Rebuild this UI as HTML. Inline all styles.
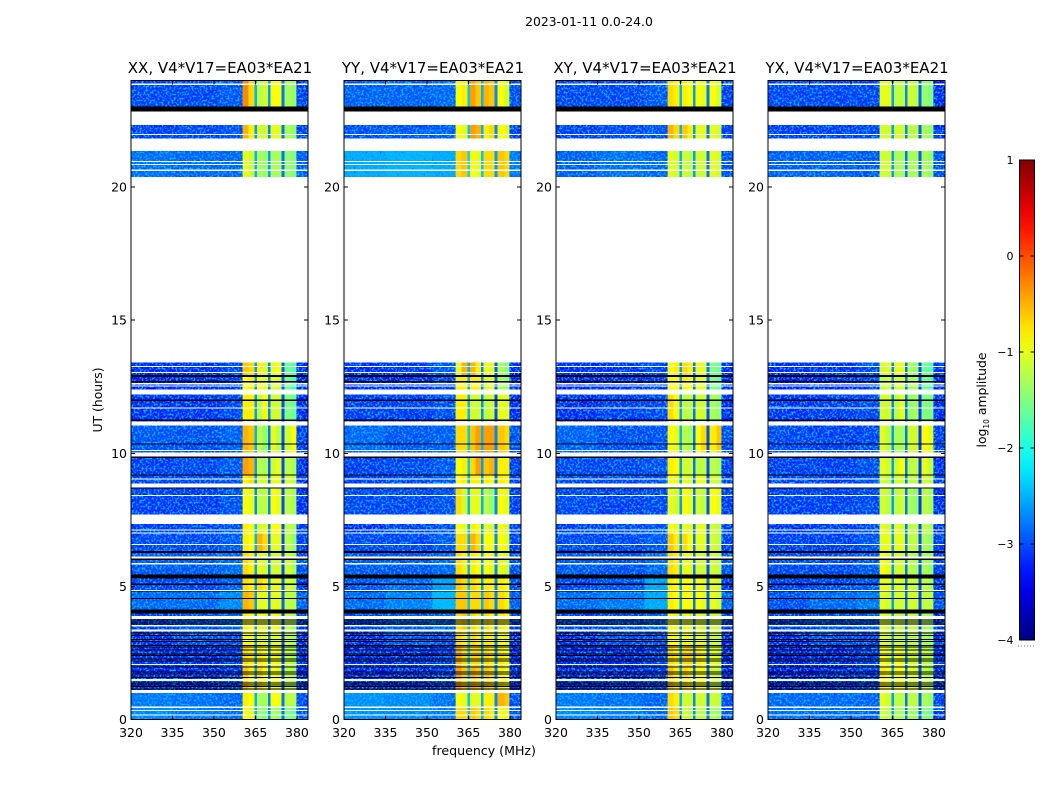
<!DOCTYPE html>
<html><head><meta charset="utf-8"><title>2023-01-11 0.0-24.0</title>
<style>html,body{margin:0;padding:0;background:#fff;width:1050px;height:800px;overflow:hidden}
svg{display:block}text{font-family:"DejaVu Sans","Liberation Sans",sans-serif;fill:#000}</style></head>
<body>
<svg id="figure" xmlns="http://www.w3.org/2000/svg" width="1050" height="800" viewBox="0 0 1050 800">
<defs>
<filter id="speckle" x="0" y="0" width="100%" height="100%" color-interpolation-filters="sRGB">
<feTurbulence type="fractalNoise" baseFrequency="0.5" numOctaves="2" seed="7" result="n"/>
<feColorMatrix in="n" result="lite" type="matrix" values="0 0 0 0 0  0 0 0 0 0.74  0 0 0 0 1  5 0 0 0 -2.35"/>
<feColorMatrix in="n" result="dark" type="matrix" values="0 0 0 0 0  0 0 0 0 0.1  0 0 0 0 0.9  0 -3 0 0 1.1"/>
<feMerge><feMergeNode in="dark"/><feMergeNode in="lite"/></feMerge>
</filter>
<linearGradient id="jet-gradient" x1="0" y1="1" x2="0" y2="0"></linearGradient>
</defs>
<text x="589" y="26" text-anchor="middle" font-size="12.4">2023-01-11 0.0-24.0</text>
<text x="484" y="755" text-anchor="middle" font-size="12.6">frequency (MHz)</text>
<text transform="translate(102,400) rotate(-90)" text-anchor="middle" font-size="12.4">UT (hours)</text>
<text transform="translate(986,400) rotate(-90)" text-anchor="middle" font-size="12.4">log<tspan font-size="7.5" dy="3">10</tspan><tspan dy="-3"> amplitude</tspan></text>
<g id="panels"></g>
<g id="colorbar"></g>
</svg>
<script>
// Frequency columns of the heatmap (MHz edges)
const freqEdges = [320,335,352,360.4,362.5,364.6,365.5,367.5,369.5,370.5,372.5,374.5,375.5,378,379.8,384];
// Time bands (UT hours): top and bottom of each heatmap row
const bandTop =    [24,   22.9, 21.6, 13.4, 12.9, 12.3, 11.1, 10.0, 9.2, 8.8, 7.5, 7.0, 6.3, 5.35, 4.87, 4.05, 3.35, 2.8, 2.0, 1.05, 0.5];
const bandBottom = [22.9, 21.6, 20.38,12.9, 12.3, 11.1, 10.0, 9.2, 8.8, 7.5, 7.0, 6.3, 5.35,4.87, 4.05, 3.35, 2.8, 2.0, 1.05,0.5,  0];
// log10 amplitude, one row per time band, one value per frequency column
const valuesXX = [
[-3.15,-3.15,-3.05,-0.3,-0.7,-2.5,-1.2,-1.1,-2.6,-0.9,-0.9,-2.8,-1.3,-1.4,-3.2],
[-3.2,-3.15,-3.1,-0.5,-0.8,-2.6,-1.1,-1.1,-2.7,-1.0,-1.0,-2.8,-1.3,-1.4,-3.2],
[-2.9,-2.95,-2.95,-1.0,-1.1,-2.5,-1.3,-1.4,-2.6,-1.3,-1.3,-2.8,-1.4,-1.5,-3.0],
[-3.3,-3.3,-3.15,-0.6,-0.7,-2.6,-0.8,-1.1,-2.7,-1.0,-0.9,-2.9,-1.6,-1.7,-3.3],
[-3.35,-3.3,-3.2,-0.9,-0.8,-2.6,-0.9,-1.0,-2.7,-1.0,-1.1,-2.9,-1.6,-1.8,-3.3],
[-3.25,-3.25,-3.15,-0.8,-0.8,-2.6,-1.2,-0.9,-2.7,-1.1,-1.1,-3.0,-1.5,-1.6,-3.3],
[-3.05,-3.1,-3.0,-0.5,-0.6,-2.5,-1.2,-1.4,-2.8,-1.0,-1.2,-3.0,-1.1,-0.9,-3.2],
[-3.2,-3.15,-3.05,-0.4,-0.5,-2.6,-1.2,-1.3,-2.9,-1.1,-1.0,-3.0,-1.2,-1.3,-3.3],
[-3.15,-3.15,-3.1,-0.8,-0.7,-2.6,-1.1,-1.1,-2.9,-1.0,-1.0,-3.0,-1.1,-1.2,-3.3],
[-3.2,-3.2,-3.1,-0.9,-1.0,-2.7,-1.2,-1.2,-2.7,-0.9,-1.0,-3.0,-1.2,-1.3,-3.3],
[-3.2,-3.15,-3.1,-0.8,-0.9,-2.4,-1.1,-1.0,-2.7,-0.9,-0.9,-3.0,-1.2,-1.3,-3.2],
[-3.15,-3.15,-3.05,-0.8,-0.9,-2.5,-0.5,-0.7,-2.8,-1.0,-1.0,-3.0,-1.2,-1.4,-3.2],
[-3.05,-3.05,-2.95,-0.7,-0.8,-2.6,-1.0,-1.1,-2.8,-1.1,-1.1,-3.0,-1.1,-1.3,-3.1],
[-3.15,-3.15,-3.0,-0.7,-0.8,-2.6,-0.7,-0.8,-2.7,-1.0,-1.0,-2.9,-1.1,-1.2,-3.2],
[-2.95,-2.95,-2.75,-0.5,-0.6,-2.6,-1.0,-1.0,-2.8,-1.0,-1.0,-2.9,-1.2,-1.2,-3.0],
[-3.2,-3.1,-3.0,-0.8,-0.9,-2.6,-0.9,-1.0,-2.8,-0.9,-1.0,-3.0,-1.2,-1.3,-3.2],
[-3.3,-3.1,-3.1,-0.9,-0.9,-2.6,-1.0,-1.0,-2.8,-1.0,-1.0,-3.0,-1.2,-1.3,-3.3],
[-3.3,-3.3,-3.2,-0.7,-0.8,-2.6,-0.8,-0.9,-2.8,-0.9,-1.0,-3.0,-1.2,-1.3,-3.3],
[-3.3,-3.3,-3.2,-0.6,-0.8,-2.6,-0.7,-0.9,-2.8,-0.9,-1.0,-3.0,-1.2,-1.3,-3.3],
[-2.85,-2.9,-2.95,-0.8,-0.9,-2.5,-1.3,-1.3,-2.7,-0.9,-0.9,-2.8,-1.2,-1.2,-3.1],
[-2.75,-2.85,-2.95,-0.9,-1.0,-2.5,-1.4,-1.5,-2.7,-1.3,-1.4,-2.8,-1.5,-1.6,-3.1]
];
const valuesYY = [
[-3.0,-3.0,-2.95,-0.9,-0.8,-2.4,-0.4,-0.6,-2.5,-0.5,-0.6,-2.7,-0.9,-1.1,-3.1],
[-3.1,-3.05,-3.0,-0.9,-1.0,-2.4,-0.4,-0.5,-2.5,-0.8,-0.7,-2.7,-0.9,-1.0,-3.2],
[-2.55,-2.5,-2.55,-0.7,-0.6,-2.3,-0.9,-1.0,-2.4,-0.7,-0.7,-2.6,-0.6,-0.7,-2.85],
[-3.3,-3.25,-3.05,-1.0,-0.5,-2.5,-0.5,-0.8,-2.7,-1.0,-1.0,-2.9,-1.3,-1.5,-3.3],
[-3.3,-3.3,-3.15,-0.8,-0.8,-2.5,-0.8,-0.8,-2.7,-1.1,-1.0,-2.9,-1.3,-1.4,-3.3],
[-3.2,-3.2,-3.1,-0.8,-0.8,-2.5,-1.1,-1.1,-2.7,-1.2,-1.1,-3.0,-1.0,-1.0,-3.3],
[-2.95,-3.05,-3.0,-0.7,-0.7,-2.4,-0.6,-0.4,-2.5,-0.4,-0.4,-2.7,-0.6,-0.7,-3.1],
[-3.2,-3.15,-3.05,-0.9,-0.8,-2.4,-0.7,-0.4,-2.6,-0.6,-0.5,-2.8,-0.8,-0.8,-3.2],
[-3.2,-3.15,-3.05,-0.9,-0.8,-2.5,-0.8,-0.8,-2.6,-0.8,-0.9,-2.8,-0.8,-0.9,-3.2],
[-3.15,-3.15,-3.1,-0.7,-1.1,-2.5,-1.0,-1.0,-2.5,-1.2,-1.4,-2.7,-0.9,-1.0,-3.2],
[-3.3,-3.15,-3.1,-0.9,-1.0,-2.5,-0.8,-0.9,-2.6,-1.0,-1.1,-2.8,-0.9,-1.1,-3.2],
[-3.15,-3.15,-3.05,-0.7,-0.7,-2.5,-0.5,-0.7,-2.6,-0.9,-0.9,-2.7,-0.9,-1.0,-3.2],
[-3.05,-3.05,-2.95,-0.7,-0.8,-2.5,-0.8,-0.9,-2.6,-0.9,-1.0,-2.7,-1.0,-1.1,-3.1],
[-3.05,-2.95,-2.6,-0.6,-0.7,-2.4,-0.7,-0.8,-2.6,-0.8,-0.8,-2.7,-0.8,-0.9,-3.1],
[-2.95,-2.8,-2.45,-0.6,-0.6,-2.4,-0.7,-0.7,-2.5,-0.6,-0.7,-2.7,-0.7,-0.8,-3.0],
[-3.2,-3.05,-3.0,-0.7,-0.6,-2.4,-0.7,-0.8,-2.6,-0.7,-0.8,-2.7,-0.8,-0.9,-3.2],
[-3.3,-3.05,-3.1,-0.7,-0.8,-2.4,-0.7,-0.8,-2.6,-0.8,-0.8,-2.7,-0.9,-1.0,-3.3],
[-3.3,-3.3,-3.2,-0.5,-0.7,-2.4,-0.7,-0.7,-2.6,-0.7,-0.8,-2.7,-0.8,-0.9,-3.3],
[-3.3,-3.3,-3.2,-0.4,-0.6,-2.4,-0.5,-0.6,-2.6,-0.6,-0.7,-2.7,-0.8,-0.9,-3.3],
[-2.7,-2.75,-2.9,-0.9,-1.0,-2.4,-1.0,-1.0,-2.5,-0.8,-0.8,-2.7,-0.5,-0.6,-3.1],
[-2.7,-2.75,-2.85,-0.7,-0.7,-2.4,-0.6,-0.7,-2.5,-0.7,-0.8,-2.7,-0.9,-1.0,-3.1]
];
const valuesXY = [
[-3.15,-3.15,-3.05,-0.7,-0.8,-2.5,-0.8,-0.9,-2.6,-0.9,-1.0,-2.8,-0.9,-1.1,-3.2],
[-3.2,-3.15,-3.1,-0.5,-0.7,-2.5,-0.6,-0.8,-2.6,-1.0,-1.0,-2.8,-1.0,-1.1,-3.2],
[-3.0,-2.9,-2.95,-1.0,-1.1,-2.5,-1.1,-1.2,-2.6,-1.1,-1.1,-2.8,-1.0,-1.1,-3.1],
[-3.3,-3.25,-3.15,-0.9,-0.8,-2.6,-0.7,-0.8,-2.8,-1.0,-1.0,-2.8,-1.5,-1.6,-3.3],
[-3.35,-3.3,-3.2,-0.9,-0.9,-2.6,-0.8,-0.9,-2.8,-1.0,-1.0,-2.8,-1.5,-1.6,-3.3],
[-3.3,-3.2,-3.15,-0.7,-0.9,-2.6,-1.2,-1.2,-2.8,-1.1,-1.1,-3.0,-1.3,-1.4,-3.3],
[-3.0,-3.1,-3.1,-0.9,-1.0,-2.5,-1.2,-1.3,-2.8,-0.9,-0.7,-3.0,-0.8,-0.6,-3.1],
[-3.15,-3.15,-3.1,-0.8,-0.9,-2.6,-1.1,-1.1,-2.8,-1.2,-1.2,-3.0,-1.2,-1.3,-3.2],
[-3.15,-3.15,-3.1,-0.9,-1.0,-2.6,-1.0,-1.1,-2.8,-1.0,-1.0,-3.0,-1.1,-1.2,-3.2],
[-3.15,-3.2,-3.15,-1.0,-1.1,-2.6,-0.9,-1.0,-2.8,-1.1,-1.2,-3.0,-0.9,-1.0,-3.2],
[-3.2,-3.15,-3.1,-0.9,-1.0,-2.6,-1.0,-1.0,-2.8,-1.0,-1.0,-3.0,-1.1,-1.2,-3.2],
[-3.15,-3.15,-3.05,-0.6,-0.8,-2.6,-0.7,-0.9,-2.8,-1.0,-1.0,-3.0,-1.1,-1.2,-3.2],
[-3.05,-3.1,-2.95,-0.7,-0.8,-2.6,-1.0,-1.0,-2.8,-1.1,-1.1,-3.0,-1.1,-1.2,-3.1],
[-3.15,-3.05,-2.55,-0.8,-0.9,-2.6,-0.9,-0.9,-2.8,-0.9,-1.0,-2.9,-1.0,-1.1,-3.2],
[-2.95,-2.85,-2.55,-0.8,-0.9,-2.6,-0.9,-0.9,-2.8,-0.9,-1.0,-2.9,-1.0,-1.1,-3.0],
[-3.2,-3.1,-3.0,-0.9,-1.0,-2.6,-1.0,-1.0,-2.8,-1.0,-1.1,-2.9,-1.1,-1.2,-3.2],
[-3.3,-3.1,-3.1,-0.9,-0.9,-2.6,-0.9,-1.0,-2.8,-1.0,-1.0,-2.9,-1.1,-1.2,-3.3],
[-3.3,-3.3,-3.2,-0.7,-0.8,-2.6,-0.7,-0.7,-2.8,-0.8,-0.9,-2.9,-1.0,-1.1,-3.3],
[-3.3,-3.3,-3.2,-0.6,-0.8,-2.6,-0.7,-0.8,-2.8,-0.9,-0.9,-2.9,-1.1,-1.2,-3.3],
[-2.85,-2.9,-3.0,-0.7,-0.8,-2.5,-1.1,-1.1,-2.7,-1.1,-1.1,-2.8,-1.1,-1.2,-3.1],
[-2.75,-2.8,-2.95,-0.6,-0.7,-2.5,-1.1,-1.2,-2.7,-1.2,-1.2,-2.8,-1.3,-1.4,-3.1]
];
const valuesYX = [
[-3.15,-3.15,-3.15,-1.0,-1.0,-2.6,-1.2,-1.2,-2.7,-1.1,-1.2,-2.9,-1.4,-1.5,-3.3],
[-3.2,-3.2,-3.15,-1.1,-1.1,-2.6,-1.1,-1.1,-2.7,-1.2,-1.2,-2.9,-1.3,-1.4,-3.3],
[-3.0,-3.0,-3.05,-1.1,-1.1,-2.6,-1.3,-1.3,-2.8,-1.3,-1.3,-2.9,-1.3,-1.4,-3.1],
[-3.3,-3.25,-3.15,-1.1,-1.0,-2.7,-1.0,-1.0,-2.8,-1.3,-1.4,-3.0,-1.6,-1.7,-3.3],
[-3.35,-3.3,-3.2,-1.2,-1.1,-2.7,-1.1,-1.1,-2.8,-1.3,-1.3,-3.0,-1.6,-1.7,-3.3],
[-3.25,-3.2,-3.15,-1.1,-1.1,-2.7,-1.2,-1.0,-2.8,-1.4,-1.3,-3.1,-1.5,-1.5,-3.3],
[-3.15,-3.2,-3.15,-1.0,-1.2,-2.6,-1.3,-1.3,-2.8,-1.1,-1.1,-3.1,-0.9,-1.0,-3.2],
[-3.2,-3.2,-3.1,-1.0,-1.1,-2.6,-1.1,-0.9,-2.8,-1.2,-1.2,-3.1,-1.0,-1.2,-3.3],
[-3.2,-3.2,-3.1,-1.1,-1.2,-2.6,-1.1,-1.1,-2.8,-1.2,-1.2,-3.1,-1.1,-1.2,-3.2],
[-3.2,-3.2,-3.15,-1.1,-1.2,-2.6,-1.2,-1.1,-2.8,-1.3,-1.4,-3.1,-1.2,-1.3,-3.3],
[-3.25,-3.2,-3.15,-1.0,-1.1,-2.6,-1.0,-1.1,-2.8,-1.2,-1.2,-3.0,-1.2,-1.3,-3.3],
[-3.2,-3.2,-3.1,-1.0,-1.0,-2.6,-1.0,-1.0,-2.8,-1.2,-1.2,-3.0,-1.3,-1.4,-3.2],
[-3.15,-3.15,-3.05,-0.9,-1.0,-2.6,-1.1,-1.1,-2.8,-1.2,-1.3,-3.0,-1.3,-1.4,-3.2],
[-3.2,-3.15,-3.05,-1.0,-1.0,-2.6,-1.0,-1.1,-2.8,-1.1,-1.2,-3.0,-1.2,-1.3,-3.2],
[-3.1,-2.95,-2.85,-1.0,-1.1,-2.6,-1.1,-1.1,-2.8,-1.1,-1.1,-3.0,-1.2,-1.2,-3.1],
[-3.2,-3.1,-3.05,-1.0,-1.1,-2.6,-1.1,-1.2,-2.8,-1.1,-1.2,-3.0,-1.3,-1.4,-3.3],
[-3.3,-3.1,-3.15,-1.0,-1.1,-2.6,-1.1,-1.2,-2.8,-1.2,-1.2,-3.0,-1.3,-1.4,-3.3],
[-3.35,-3.3,-3.2,-0.9,-1.0,-2.6,-0.9,-1.0,-2.8,-1.1,-1.1,-3.0,-1.2,-1.3,-3.3],
[-3.35,-3.3,-3.2,-0.8,-0.9,-2.6,-0.9,-0.9,-2.8,-1.0,-1.1,-3.0,-1.2,-1.3,-3.3],
[-2.95,-2.95,-3.0,-1.0,-1.1,-2.6,-1.2,-1.2,-2.8,-1.2,-1.2,-2.9,-1.3,-1.4,-3.2],
[-2.9,-2.95,-3.0,-1.1,-1.2,-2.6,-1.3,-1.3,-2.8,-1.3,-1.4,-2.9,-1.5,-1.6,-3.2]
];
// UT ranges with no data (drawn white)
const maskedStart = [23.84,22.32,21.95,21.35,20.93,20.82,20.6,13.4,13.24,13.02,12.59,12.5,12.21,11.68,11.05,10.08,9.88,9.02,8.71,8.4,7.34,7.09,6.98,6.55,6.05,5.83,4.84,3.78,3.5,3.31,2.05,1.45,1.0,0.44,0.31,0.15];
const maskedEnd   = [23.88,22.84,22.0,21.82,20.97,20.86,20.65,20.38,13.28,13.06,12.63,12.54,12.39,11.72,11.19,10.12,10.03,9.06,8.86,8.44,7.7,7.13,7.02,6.59,6.12,5.87,4.87,3.88,3.54,3.38,2.09,1.52,1.11,0.48,0.35,0.19];
// UT ranges flagged as bad (drawn black)
const flaggedStart = [22.84,12.87,12.66,11.97,11.22,10.32,9.83,9.17,8.67,6.25,6.0,5.29,5.05,4.81,4.53,3.99,3.73,3.65,3.58,3.24,3.15,2.99,2.91,2.77,2.71,2.59,2.44,2.38,2.26,2.18,1.96,1.78,1.69,1.57,1.36,1.28,1.22,1.14];
const flaggedEnd   = [23.03,12.93,12.72,12.02,11.26,10.37,9.87,9.21,8.71,6.32,6.05,5.44,5.1,4.84,4.57,4.13,3.76,3.68,3.61,3.27,3.18,3.02,2.95,2.8,2.75,2.62,2.47,2.42,2.3,2.21,2.0,1.81,1.72,1.6,1.39,1.31,1.25,1.17];
// Axis ticks and labels
const panelTitles = ["XX, V4*V17=EA03*EA21","YY, V4*V17=EA03*EA21","XY, V4*V17=EA03*EA21","YX, V4*V17=EA03*EA21"];
const freqTicks = [320,335,350,365,380];
const utTicks = [0,5,10,15,20];
const colorTicks = [1,0,-1,-2,-3,-4];

const panelValues = [valuesXX,valuesYY,valuesXY,valuesYX];
const panelLeft = [131,344,556,768];
const panelWidth = 177;
const plotTop = 80.5, plotBottom = 719.5;
const NS = "http://www.w3.org/2000/svg";

function mk(tag, attrs, parent){
  const el = document.createElementNS(NS, tag);
  for (const k in attrs) el.setAttribute(k, attrs[k]);
  parent.appendChild(el);
  return el;
}
function xScale(left, mhz){ return left + (mhz - 320) * panelWidth / 64; }
function yScale(ut){ return plotBottom - ut * (plotBottom - plotTop) / 24; }
function jet(v){
  const t = Math.max(0, Math.min(1, (v + 4) / 5));
  const c = x => Math.round(255 * Math.max(0, Math.min(1, x)));
  return "rgb(" + c(Math.min(4*t-1.5, -4*t+4.5)) + "," + c(Math.min(4*t-0.5, -4*t+3.5)) + "," + c(Math.min(4*t+0.5, -4*t+2.5)) + ")";
}

const panelsRoot = document.getElementById("panels");
panelTitles.forEach(function(title, p){
  const left = panelLeft[p];
  const g = mk("g", {}, panelsRoot);
  
  

  const rows = panelValues[p];
  rows.forEach(function(row, r){
    row.forEach(function(v, c){
      const x0 = xScale(left, freqEdges[c]), x1 = xScale(left, freqEdges[c+1]);
      const y0 = yScale(bandTop[r]), y1 = yScale(bandBottom[r]);
      const cell = mk("rect", {x:x0, y:y0, width:x1-x0, height:y1-y0, fill:jet(v), "shape-rendering":"crispEdges"}, g);
      
      
    });
  });

  const spA = mk("rect", {x:left, y:plotTop, width:xScale(0,360.4), height:plotBottom-plotTop, filter:"url(#speckle)"}, g);
  
  
  const spB = mk("rect", {x:xScale(left,379.8), y:plotTop, width:left+panelWidth-xScale(left,379.8), height:plotBottom-plotTop, filter:"url(#speckle)"}, g);
  
  

  flaggedStart.forEach(function(s, i){
    const y0 = yScale(flaggedEnd[i]), y1 = yScale(s);
    const f = mk("rect", {x:left, y:y0, width:panelWidth, height:Math.max(1,y1-y0), fill:"#000", "shape-rendering":"crispEdges"}, g);
    
    
  });
  maskedStart.forEach(function(s, i){
    const y0 = yScale(maskedEnd[i]), y1 = yScale(s);
    const m = mk("rect", {x:left, y:y0, width:panelWidth, height:Math.max(1,y1-y0), fill:"#fff", "shape-rendering":"crispEdges"}, g);
    
    
  });

  const frame = mk("rect", {x:left, y:plotTop, width:panelWidth, height:plotBottom-plotTop, fill:"none", stroke:"#000", "stroke-width":1, "shape-rendering":"crispEdges"}, g);
  
  

  const t = mk("text", {x:left+panelWidth/2+0.5, y:73, "text-anchor":"middle", "font-size":"15"}, g);
  t.textContent = title;
  
  

  freqTicks.forEach(function(f){
    const x = xScale(left, f);
    const a = mk("line", {x1:x, x2:x, y1:plotBottom, y2:plotBottom-4, stroke:"#000", "shape-rendering":"crispEdges"}, g);
    
    
    const b = mk("line", {x1:x, x2:x, y1:plotTop, y2:plotTop+4, stroke:"#000", "shape-rendering":"crispEdges"}, g);
    
    
    const l = mk("text", {x:x, y:737, "text-anchor":"middle", "font-size":"12.5"}, g);
    l.textContent = f;
    
    
  });
  utTicks.forEach(function(u){
    const y = yScale(u);
    const a = mk("line", {x1:left, x2:left+4, y1:y, y2:y, stroke:"#000", "shape-rendering":"crispEdges"}, g);
    
    
    const b = mk("line", {x1:left+panelWidth, x2:left+panelWidth-4, y1:y, y2:y, stroke:"#000", "shape-rendering":"crispEdges"}, g);
    
    
    const l = mk("text", {x:left-4, y:y+4.5, "text-anchor":"end", "font-size":"12.5"}, g);
    l.textContent = u;
    
    
  });
});

// Colorbar
const cbX = 1019.5, cbW = 15, cbTop = 160, cbBottom = 640;
function cbY(v){ return cbBottom - (v + 4) * (cbBottom - cbTop) / 5; }
const grad = document.getElementById("jet-gradient");
[-4,-3.75,-3.5,-3.25,-3,-2.75,-2.5,-2.25,-2,-1.75,-1.5,-1.25,-1,-0.75,-0.5,-0.25,0,0.25,0.5,0.75,1].forEach(function(v){
  mk("stop", {offset:((v+4)/5), "stop-color":jet(v)}, grad);
});
const cbRoot = document.getElementById("colorbar");
const bar = mk("rect", {x:cbX, y:cbTop, width:cbW, height:cbBottom-cbTop, fill:"url(#jet-gradient)", stroke:"#000", "stroke-width":1, "shape-rendering":"crispEdges"}, cbRoot);


colorTicks.forEach(function(v){
  const y = cbY(v);
  const a = mk("line", {x1:cbX, x2:cbX+4, y1:y, y2:y, stroke:"#000", "shape-rendering":"crispEdges"}, cbRoot);
  
  
  const b = mk("line", {x1:cbX+cbW, x2:cbX+cbW-4, y1:y, y2:y, stroke:"#000", "shape-rendering":"crispEdges"}, cbRoot);
  
  
  const l = mk("text", {x:cbX-6, y:y+4, "text-anchor":"end", "font-size":"11"}, cbRoot);
  l.textContent = String(v).replace("-", "\u2212");
  
  
});
const dots = mk("line", {x1:1018, x2:1035, y1:646, y2:646, stroke:"#777", "stroke-width":1, "stroke-dasharray":"1 2", "shape-rendering":"crispEdges"}, cbRoot);


</script>
</body></html>
